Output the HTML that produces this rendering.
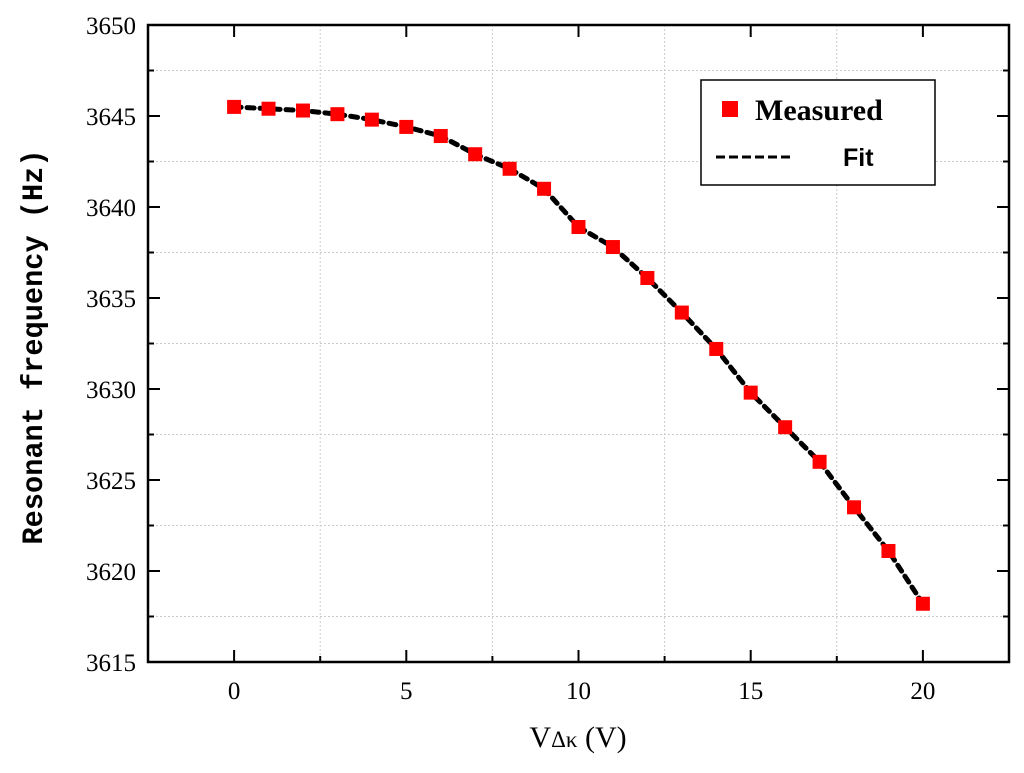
<!DOCTYPE html>
<html><head><meta charset="utf-8"><style>
body{margin:0;background:#fff;width:1024px;height:768px;overflow:hidden}
svg text{font-family:"Liberation Serif",serif}
</style></head><body>
<svg id="chart" width="1024" height="768" xmlns="http://www.w3.org/2000/svg">
<g id="grid"></g>
<g id="fit"></g>
<g id="pts"></g>
<rect x="148" y="25" width="861" height="637" fill="none" stroke="#000" stroke-width="2.5"/>
<g id="ticks"></g>
<text transform="translate(42,347) rotate(-90)" text-anchor="middle" font-size="30" font-weight="bold" textLength="395" lengthAdjust="spacingAndGlyphs" style="font-family:'Liberation Mono',monospace">Resonant frequency (Hz)</text>
<text x="578" y="747" text-anchor="middle" font-size="30">V<tspan font-size="23">Δκ</tspan> (V)</text>
<g>
<rect x="701" y="80" width="234" height="105" fill="#fff" stroke="#000" stroke-width="1.5"/>
<rect x="722" y="101" width="16" height="16" fill="#ff0000"/>
<text x="755" y="120" font-size="30" font-weight="bold">Measured</text>
<line x1="716" y1="157" x2="792" y2="157" stroke="#000" stroke-width="3" stroke-dasharray="9,4"/>
<text x="843" y="166" font-size="25" font-weight="bold" style="font-family:'Liberation Sans',sans-serif">Fit</text>
</g>
</svg>
<script>
const xValues=[0,1,2,3,4,5,6,7,8,9,10,11,12,13,14,15,16,17,18,19,20];
const measured=[3645.5,3645.4,3645.3,3645.1,3644.8,3644.4,3643.9,3642.9,3642.1,3641.0,3638.9,3637.8,3636.1,3634.2,3632.2,3629.8,3627.9,3626.0,3623.5,3621.1,3618.2];
const xTicks=[0,5,10,15,20];
const yTicks=[3615,3620,3625,3630,3635,3640,3645,3650];
const xMinor=[-2.5,2.5,7.5,12.5,17.5,22.5];
const yMinor=[3617.5,3622.5,3627.5,3632.5,3637.5,3642.5,3647.5];
const X=v=>148+(v+2.5)*861/25;
const Y=v=>662-(v-3615)*637/35;
const NS="http://www.w3.org/2000/svg";
function mk(t,a,p){const e=document.createElementNS(NS,t);for(const k in a)e.setAttribute(k,a[k]);p.appendChild(e);return e;}
const grid=document.getElementById('grid'),ticks=document.getElementById('ticks');
xMinor.slice(1,-1).forEach(v=>{const l=mk('line',{x1:X(v),x2:X(v),y1:25,y2:662,stroke:'#ccc','stroke-width':1,'stroke-dasharray':'2,2'},grid);


const t=mk('line',{x1:X(v),x2:X(v),y1:662,y2:656,stroke:'#000','stroke-width':2},ticks);

});
yMinor.forEach(v=>{const l=mk('line',{x1:148,x2:1009,y1:Y(v),y2:Y(v),stroke:'#ccc','stroke-width':1,'stroke-dasharray':'2,2'},grid);


[[148,154],[1009,1003]].forEach(p=>{const t=mk('line',{x1:p[0],x2:p[1],y1:Y(v),y2:Y(v),stroke:'#000','stroke-width':2},ticks);

});});
xTicks.forEach(v=>{const t=mk('line',{x1:X(v),x2:X(v),y1:662,y2:650,stroke:'#000','stroke-width':2},ticks);


const t2=mk('line',{x1:X(v),x2:X(v),y1:25,y2:37,stroke:'#000','stroke-width':2},ticks);


const s=mk('text',{x:X(v),y:699,'text-anchor':'middle','font-size':25},ticks);s.textContent=v;

});
yTicks.forEach(v=>{[[148,160],[1009,997]].forEach(p=>{const t=mk('line',{x1:p[0],x2:p[1],y1:Y(v),y2:Y(v),stroke:'#000','stroke-width':2},ticks);

});
const s=mk('text',{x:136,y:Y(v)+9,'text-anchor':'end','font-size':25},ticks);s.textContent=v;

});
const fit=document.getElementById('fit');
const d=xValues.map((v,i)=>(i?'L':'M')+X(v)+','+Y(measured[i])).join(' ');
const fp=mk('path',{d:d,fill:'none',stroke:'#000','stroke-width':5,'stroke-dasharray':'7,6','stroke-linecap':'round'},fit);


const pts=document.getElementById('pts');
xValues.forEach((v,i)=>{const r=mk('rect',{x:X(v)-7,y:Y(measured[i])-7,width:14,height:14,fill:'#ff0000'},pts);

});
</script>
</body></html>
